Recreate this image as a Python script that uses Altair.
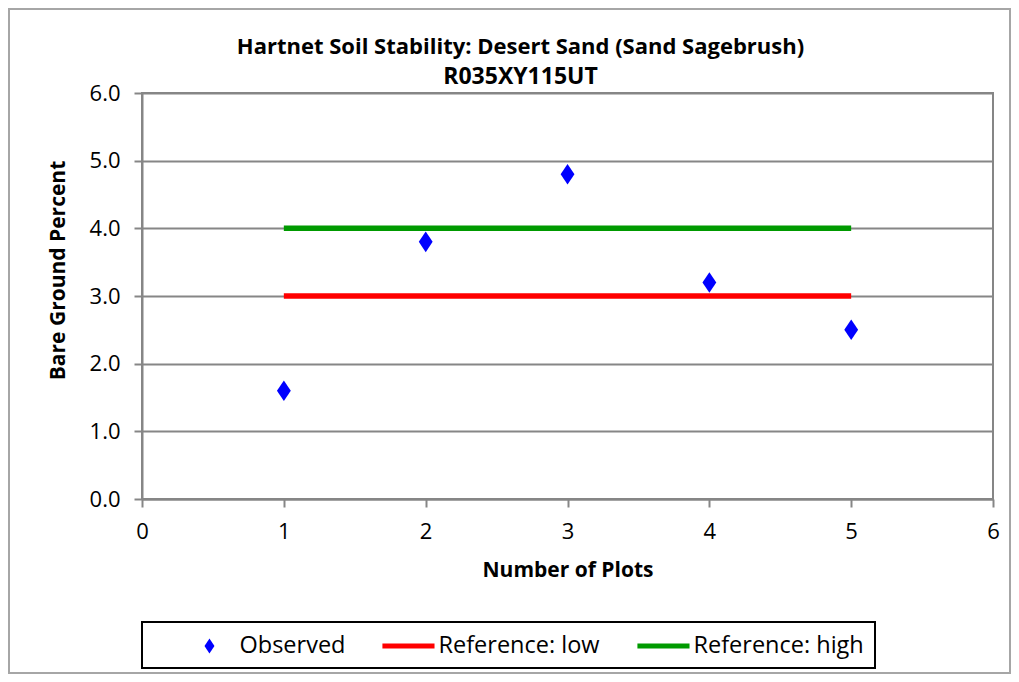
import altair as alt
import pandas as pd

# ---- data ----
plots = [1, 2, 3, 4, 5]
observed = [1.6, 3.8, 4.8, 3.2, 2.5]
ref_x = [1, 5]
ref_low = [3.0, 3.0]
ref_high = [4.0, 4.0]
series_names = ["Observed", "Reference: low", "Reference: high"]
series_colors = ["#0000FF", "#FF0000", "#009A00"]
x_ticks = [0, 1, 2, 3, 4, 5, 6]
y_ticks = [0, 1, 2, 3, 4, 5, 6]
title_text = "Hartnet Soil Stability: Desert Sand (Sand Sagebrush)"
subtitle_text = "R035XY115UT"

FONT = "Open Sans"
GRID = "#868686"
# legend symbol paths (unit = half of legend symbol slot); shifted right inside the slot
DIAMOND = "M3.22,-0.55L3.59,0L3.22,0.55L2.85,0Z"
BAR = "M1.29,-0.18H5.15V0.18H1.29Z"
LEG_SIZE = 729      # slot 27 px -> unit 13.5 px
PT_SIZE = 1400      # unit ~18.7 px in the plot
PT_SHIFT = -60.2    # undo the path shift for the plotted diamonds

obs_df = pd.DataFrame({"x": plots, "y": observed, "series": "Observed"})
ref_df = pd.concat([
    pd.DataFrame({"x": ref_x, "y": ref_low, "series": "Reference: low"}),
    pd.DataFrame({"x": ref_x, "y": ref_high, "series": "Reference: high"}),
])

W, H = 851, 406


def legend():
    return alt.Legend(
        title=None,
        orient="none",
        legendX=0,
        legendY=529,
        direction="horizontal",
        columns=3,
        columnPadding=6,
        labelOffset=60,
        padding=10.5,
        symbolSize=LEG_SIZE,
        symbolStrokeWidth=0,
        symbolOpacity=1,
        labelFont=FONT,
        labelFontSize=23.5,
        labelColor="#000000",
        strokeColor="#000000",
        labelLimit=400,
    )


color = alt.Color(
    "series:N",
    scale=alt.Scale(domain=series_names, range=series_colors),
    legend=legend(),
)
shape = alt.Shape(
    "series:N",
    scale=alt.Scale(domain=series_names, range=[DIAMOND, BAR, BAR]),
    legend=legend(),
)

x_enc = alt.X(
    "x:Q",
    scale=alt.Scale(domain=[0, 6], nice=False),
    axis=alt.Axis(
        values=x_ticks,
        title="Number of Plots",
        grid=False,
        tickSize=8,
        labelPadding=14,
        labelFlush=False,
        titleY=71,
        titleBaseline="middle",
    ),
)
y_enc = alt.Y(
    "y:Q",
    scale=alt.Scale(domain=[0, 6], nice=False),
    axis=alt.Axis(
        values=y_ticks,
        format=".1f",
        title="Bare Ground Percent",
        grid=True,
        tickSize=8,
        labelPadding=14,
        titleAngle=-90,
        titleX=-84,
        titleY=177,
        titleAlign="center",
        titleBaseline="middle",
    ),
)

frame = alt.Chart(obs_df).mark_rect(
    fill="transparent", stroke="#A6A6A6", strokeWidth=2, clip=False
).encode(
    x=alt.value(-133), x2=alt.value(868), y=alt.value(-84), y2=alt.value(580)
)

lines = alt.Chart(ref_df).mark_line(strokeWidth=5.5, clip=False).encode(
    x=x_enc, y=y_enc, color=color, detail="series:N"
)

points = alt.Chart(obs_df).mark_point(
    filled=True, opacity=1, strokeWidth=0, size=PT_SIZE, xOffset=PT_SHIFT
).encode(
    x=x_enc, y=y_enc, color=color, shape=shape
)

chart = alt.layer(frame, lines, points).properties(
    width=W,
    height=H,
    background="white",
    autosize=alt.AutoSizeParams(type="none"),
    padding={"left": 134, "top": 85, "right": 18, "bottom": 175},
    title=alt.TitleParams(
        text=title_text,
        subtitle=subtitle_text,
        font=FONT,
        fontSize=22,
        fontWeight="bold",
        color="#000000",
        subtitleFont=FONT,
        subtitleFontSize=23,
        subtitleFontWeight="bold",
        subtitleColor="#000000",
        subtitlePadding=7,
        anchor="middle",
        frame="group",
        dx=-47,
        dy=92,
        offset=10,
    ),
).configure_view(
    stroke=GRID, strokeWidth=2
).configure_axis(
    labelFont=FONT,
    labelFontSize=22,
    labelColor="#000000",
    titleFont=FONT,
    titleFontSize=21,
    titleFontWeight="bold",
    titleColor="#000000",
    gridColor=GRID,
    gridWidth=2,
    gridOpacity=1,
    domainColor=GRID,
    domainWidth=2,
    tickColor=GRID,
    tickWidth=2,
).configure_legend(
    strokeWidth=2
)

chart.save("out.html", embed_options={"renderer": "svg", "actions": False})
